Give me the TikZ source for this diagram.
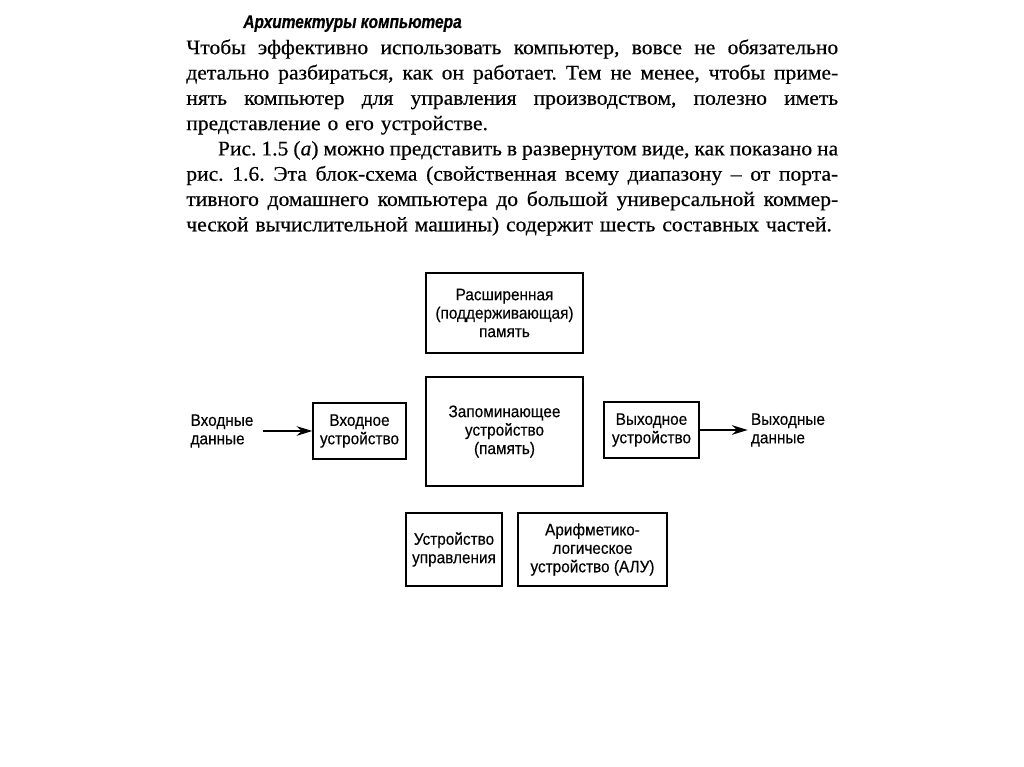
\documentclass[tikz,border=0pt]{standalone}
\usepackage{fontspec}
\setmainfont{Liberation Serif}[FakeStretch=1.04,FakeBold=0.4]
\newfontfamily\sansru{Liberation Sans}[FakeStretch=0.92,FakeBold=0.3]
\newfontfamily\titleru{Liberation Sans}[FakeStretch=0.84,FakeBold=0.5]
\usetikzlibrary{arrows.meta}
\newcommand\fullline[1]{\hbox to 13.04cm{\spaceskip=0.25em plus 1em minus 0.11em #1}}
\frenchspacing

\begin{document}
\begin{tikzpicture}[x=0.02cm,y=-0.02cm,
  blok/.style={draw,line width=0.8pt,inner sep=0pt,align=center,
    font=\sansru\fontsize{9.5}{10.5}\selectfont},
  podpis/.style={inner sep=0pt,align=left,
    font=\sansru\fontsize{9.5}{10.5}\selectfont},
  strelka/.style={line width=0.8pt,-{Stealth[length=9pt,width=5.5pt]}}]
  \useasboundingbox[fill=white] (0,0) rectangle (1024,767);
  % tekst nad skhemoj
  \node[anchor=base west,inner sep=0pt,
    font=\titleru\bfseries\itshape\fontsize{10.5}{12}\selectfont] (title) at (243,28)
    {Архитектуры компьютера};
  \node[anchor=north west,inner sep=0pt,text width=13.04cm,
    font=\fontsize{11.8}{14.4}\selectfont] (body) at (186,39) {%
    \fullline{Чтобы эффективно использовать компьютер, вовсе не обязательно}
    \fullline{детально разбираться, как он работает. Тем не менее, чтобы приме-}
    \fullline{нять компьютер для управления производством, полезно иметь}
    \hbox{представление о его устройстве.}
    \fullline{\hspace*{18pt}Рис. 1.5 (\textit{а}) можно представить в развернутом виде, как показано на}
    \fullline{рис. 1.6. Эта блок-схема (свойственная всему диапазону – от порта-}
    \fullline{тивного домашнего компьютера до большой универсальной коммер-}
    \hbox{ческой вычислительной машины) содержит шесть составных частей.}};
  % bloki
  \node[blok,minimum width=3.14cm,minimum height=1.6cm] (rasshir) at (504.5,313)
    {Расширенная\\(поддерживающая)\\память};
  \node[blok,minimum width=3.14cm,minimum height=2.18cm] (pamyat) at (504.5,431.5)
    {Запоминающее\\устройство\\(память)};
  \node[blok,minimum width=1.86cm,minimum height=1.12cm] (vvod) at (359.5,431)
    {Входное\\устройство};
  \node[blok,minimum width=1.9cm,minimum height=1.12cm] (vyvod) at (651.5,430)
    {Выходное\\устройство};
  \node[blok,minimum width=1.92cm,minimum height=1.46cm] (upr) at (454,549.5)
    {Устройство\\управления};
  \node[blok,minimum width=2.98cm,minimum height=1.46cm] (alu) at (592.5,549.5)
    {Арифметико-\\логическое\\устройство (АЛУ)};
  % vkhod i vykhod
  \node[podpis] (vhod) at (222,431) {Входные\\данные};
  \node[podpis] (vyhod) at (788,430) {Выходные\\данные};
  \draw[strelka,shorten <=5pt] (vhod) -- (vvod);
  \draw[strelka,shorten >=1.7pt] (vyvod) -- (vyhod);
\end{tikzpicture}
\end{document}
